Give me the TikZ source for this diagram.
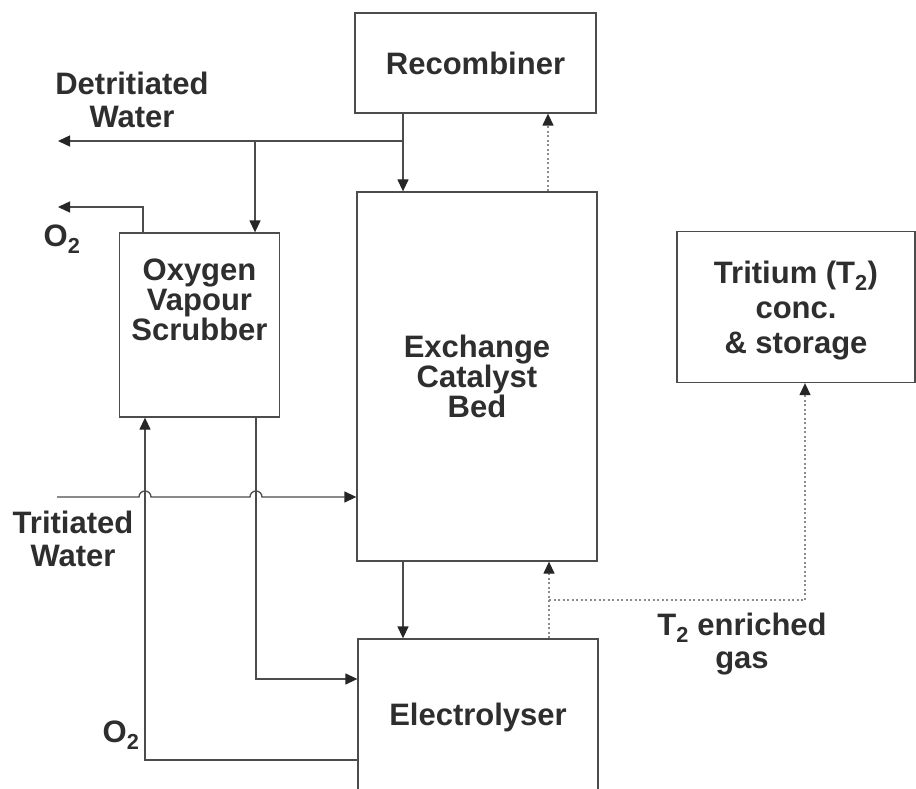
\documentclass[tikz,border=0pt]{standalone}
\usepackage{fontspec}
\setmainfont{Liberation Sans}
\usetikzlibrary{arrows.meta}
\begin{document}
\begin{tikzpicture}[x=1pt,y=-1pt,
  box/.style={draw=black!70,line width=1.3pt,rectangle,inner sep=0pt,align=center,
    font=\fontsize{31}{30}\selectfont\bfseries,text=black!82},
  lbl/.style={align=center,inner sep=0pt,font=\fontsize{31}{33}\selectfont\bfseries,text=black!82},
  tip/.style={-{Triangle[length=12pt,width=11pt,fill=black!85,color=black!85]}},
  flow/.style={draw=black!70,line width=1.3pt,tip},
  plain/.style={draw=black!70,line width=1.3pt},
  dotf/.style={draw=black!45,line width=1.3pt,dash pattern=on 2pt off 2.5pt,tip}
]
\clip (0,0) rectangle (916,789);
\fill[white] (0,0) rectangle (916,789);

% boxes
\node[box,minimum width=241pt,minimum height=100pt] (rec) at (475.5,63) {Recombiner};
\node[box,minimum width=240pt,minimum height=369pt] (ecb) at (477,376.5) {Exchange\\Catalyst\\Bed};
\node[box,minimum width=160pt,minimum height=184pt] (ovs) at (199.5,325) {};
\node[lbl,font=\fontsize{31}{30}\selectfont\bfseries] (ovstext) at (199.5,300) {Oxygen\\Vapour\\Scrubber};
\node[box,minimum width=238pt,minimum height=151pt] (trit) at (796,307) {};
\node[lbl,font=\fontsize{31}{35}\selectfont\bfseries] (trittext) at (796,311) {Tritium (T\textsubscript{2})\\conc.\\\& storage};
\node[box,minimum width=240pt,minimum height=156pt] (ele) at (478,717) {};
\node[lbl] (eletext) at (478,717) {Electrolyser};

% labels
\node[lbl] (ldw) at (132,100) {Detritiated\\Water};
\node[lbl] (lo2a) at (62,239) {O\textsubscript{2}};
\node[lbl] (ltw) at (73,539) {Tritiated\\Water};
\node[lbl] (lo2b) at (121,735) {O\textsubscript{2}};
\node[lbl] (lt2) at (742,644) {T\textsubscript{2} enriched\\gas};

% coordinates
\coordinate (j1) at (403,141);
\coordinate (j2) at (255,141);
\coordinate (dw) at (58,141);
\coordinate (o2a) at (58,207);
\coordinate (o2x) at (143,207);
\coordinate (tw) at (57,497);
\coordinate (b1) at (145,760);
\coordinate (c1) at (256,679);
\coordinate (d1) at (548,150);
\coordinate (d2) at (549,600);
\coordinate (d3) at (805,600);

% solid flows
\draw[plain] (rec.south -| j1) -- (j1);
\draw[flow] (j1) -- (ecb.north -| j1);
\draw[flow] (j1) -- (dw);
\draw[flow] (j2) -- (ovs.north -| j2);
\draw[flow] (ovs.north -| o2x) -- (o2x) -- (o2a);
\draw[flow] (tw) -- (139,497) arc[start angle=180,end angle=0,radius=6pt]
  -- (250,497) arc[start angle=180,end angle=0,radius=6pt] -- (ecb.west |- tw);
\draw[flow] (ele.west |- b1) -- (b1) -- (ovs.south -| b1);
\draw[flow] (ovs.south -| c1) -- (c1) -- (ele.west |- c1);
\draw[flow] (ecb.south -| j1) -- (ele.north -| j1);

% dotted flows
\draw[dotf] (ecb.north -| d1) -- (rec.south -| d1);
\draw[dotf] (ele.north -| d2) -- (ecb.south -| d2);
\draw[dotf] (d2) -- (d3) -- (trit.south -| d3);
\end{tikzpicture}
\end{document}
